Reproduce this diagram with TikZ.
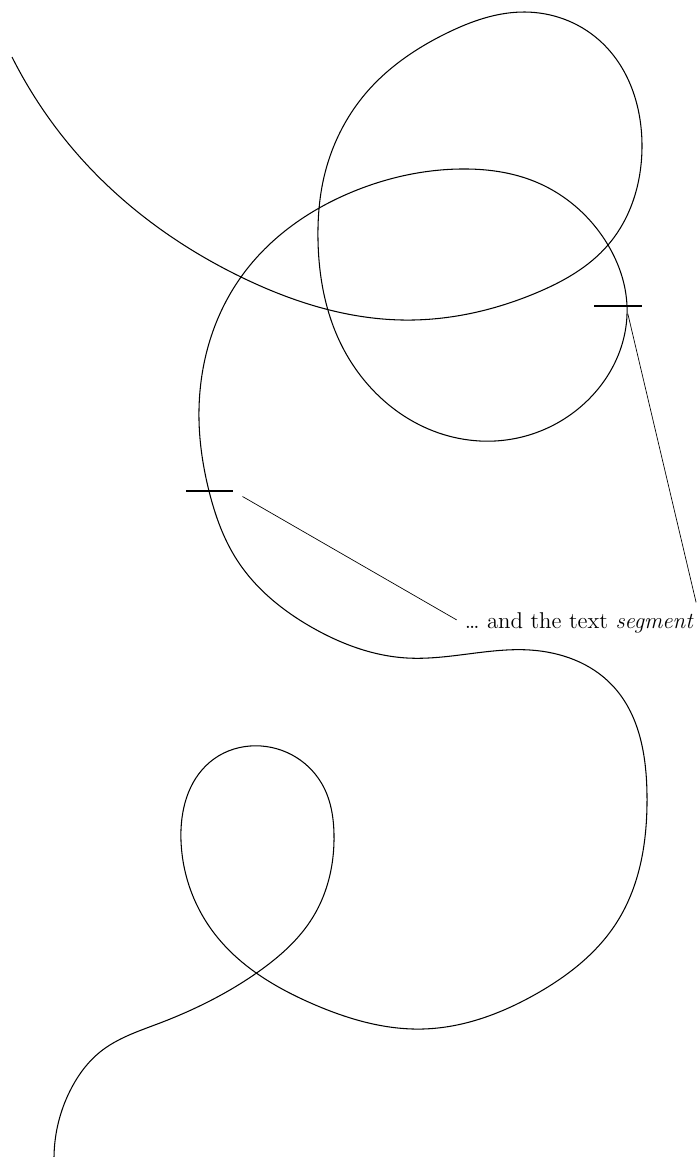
\documentclass[tikz,border=0pt]{standalone}
\usepackage{tikz}
\usetikzlibrary{calc,hobby}
\tikzset{
  curvepath/.style={line width=0.6pt,line join=round,use Hobby shortcut},
  tickmark/.style={line width=0.8pt},
  leader/.style={line width=0.4pt},
  seglabel/.style={inner sep=2pt,font=\fontsize{13}{15}\selectfont},
}

\begin{document}
\begin{tikzpicture}[x=0.02cm,y=-0.02cm]
  \useasboundingbox (0,0) rectangle (697,1157);
  % the long path
  \draw[curvepath] (12,57) .. (89,167) .. (241,277) .. (402,320) .. (536,293)
    .. (608,245) .. (642,147) .. (599,40) .. (525,12) .. (447,33) .. (366,93)
    .. (324,177) .. (318,240) .. (344,350) .. (480,441) .. (590,398)
    .. (627,306) .. (608,245) .. (536,182) .. (460,169) .. (357,190)
    .. (241,277) .. (199,420) .. (209,491) .. (237,560) .. (313,628)
    .. (407,658) .. (530,650) .. (612,685) .. (647,795) .. (617,922)
    .. (536,994) .. (423,1029) .. (313,1004) .. (214,933) .. (181,841)
    .. (210,762) .. (250,746) .. (322,784) .. (334,834) .. (313,917)
    .. (258,972) .. (160,1023) .. (100,1052) .. (72,1087) .. (54,1157);
  % where the segment starts and ends
  \coordinate (tl) at (209,491);
  \coordinate (tr) at (626,306);
  \draw[tickmark] (tl) +(-23,0) -- +(24,0);
  \draw[tickmark] (tr) +(-32,0) -- +(16,0);
  \coordinate (tlend) at (233,491);
  % the label
  \node[seglabel,anchor=base west] (seg) at (461,628) {\ldots\ and the text \textit{segment}};
  \draw[leader,shorten <=2.2mm,shorten >=1mm] (tlend) -- (seg.west);
  \draw[leader,shorten <=1.6mm,shorten >=1.2mm] (tr) -- (seg.north east);
\end{tikzpicture}
\end{document}
